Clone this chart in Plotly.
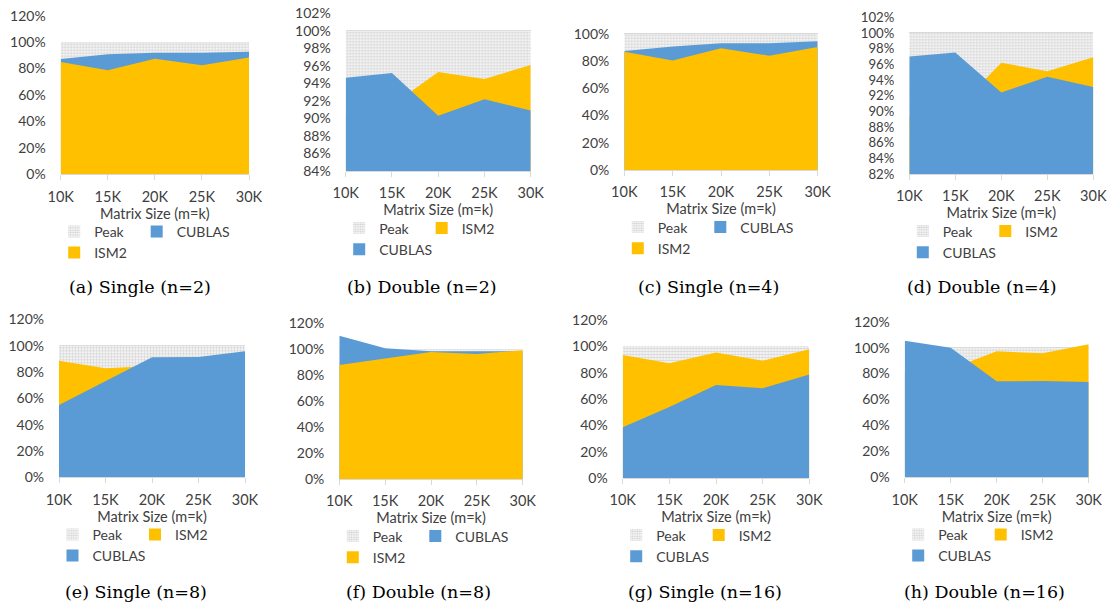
import plotly.graph_objects as go

# ---------------- data ----------------
matrix_sizes = [10, 15, 20, 25, 30]
size_labels = ["10K", "15K", "20K", "25K", "30K"]
peak = [1.0, 1.0, 1.0, 1.0, 1.0]

# (a) Single n=2
cublas_single_2 = [0.873, 0.908, 0.920, 0.920, 0.928]
ism2_single_2 = [0.850, 0.787, 0.875, 0.825, 0.883]
# (b) Double n=2
cublas_double_2 = [0.9465, 0.952, 0.903, 0.922, 0.909]
ism2_double_2 = [0.905, 0.915, 0.953, 0.945, 0.961]
# (c) Single n=4
cublas_single_4 = [0.874, 0.908, 0.932, 0.932, 0.947]
ism2_single_4 = [0.869, 0.805, 0.894, 0.840, 0.903]
# (d) Double n=4
cublas_double_4 = [0.970, 0.975, 0.924, 0.944, 0.931]
ism2_double_4 = [0.895, 0.902, 0.962, 0.951, 0.969]
# (e) Single n=8
cublas_single_8 = [0.549, 0.732, 0.911, 0.914, 0.957]
ism2_single_8 = [0.886, 0.828, 0.846, 0.860, 0.880]
# (f) Double n=8
cublas_double_8 = [1.105, 1.008, 0.985, 0.987, 0.985]
ism2_double_8 = [0.879, 0.931, 0.979, 0.964, 0.992]
# (g) Single n=16
cublas_single_16 = [0.385, 0.539, 0.706, 0.681, 0.787]
ism2_single_16 = [0.934, 0.871, 0.954, 0.891, 0.977]
# (h) Double n=16
cublas_double_16 = [1.054, 1.000, 0.740, 0.743, 0.735]
ism2_double_16 = [0.800, 0.836, 0.972, 0.956, 1.026]

captions = ["(a) Single (n=2)", "(b) Double (n=2)", "(c) Single (n=4)", "(d) Double (n=4)",
            "(e) Single (n=8)", "(f) Double (n=8)", "(g) Single (n=16)", "(h) Double (n=16)"]
x_title = "Matrix Size (m=k)"

# series order per panel (draw + legend order after Peak)
panel_series = [
    [("CUBLAS", cublas_single_2), ("ISM2", ism2_single_2)],
    [("ISM2", ism2_double_2), ("CUBLAS", cublas_double_2)],
    [("CUBLAS", cublas_single_4), ("ISM2", ism2_single_4)],
    [("ISM2", ism2_double_4), ("CUBLAS", cublas_double_4)],
    [("ISM2", ism2_single_8), ("CUBLAS", cublas_single_8)],
    [("CUBLAS", cublas_double_8), ("ISM2", ism2_double_8)],
    [("ISM2", ism2_single_16), ("CUBLAS", cublas_single_16)],
    [("ISM2", ism2_double_16), ("CUBLAS", cublas_double_16)],
]
y_ranges = [(0, 1.2), (0.84, 1.02), (0, 1.2), (0.82, 1.02),
            (0, 1.2), (0, 1.2), (0, 1.2), (0, 1.2)]
y_dticks = [0.2, 0.02, 0.2, 0.02, 0.2, 0.2, 0.2, 0.2]
y_fontsizes = [14, 14, 14, 13.2, 14, 14, 14, 14]

# ---------------- layout geometry (pixels) ----------------
W, H = 1107, 609
# x_left, x_right, y_top, y_bottom of each plot area
geom = [
    (60.7, 249.0, 15.7, 174.3),
    (345.7, 530.7, 13.3, 171.0),
    (624.3, 817.7, 6.7, 170.0),
    (909.3, 1093.3, 17.3, 174.0),
    (59.0, 245.0, 319.3, 477.3),
    (339.3, 522.7, 323.3, 479.0),
    (622.7, 809.3, 320.0, 478.0),
    (904.7, 1088.7, 321.7, 477.3),
]
caption_pos = [(140, 287), (422, 287), (708, 287), (982, 287),
               (136, 592), (418, 592), (705, 592), (984, 592)]

colors = {"CUBLAS": "#5B9BD5", "ISM2": "#FFC000"}
peak_pattern = dict(shape=".", fgcolor="#ADADAD", bgcolor="#FFFFFF", size=3, solidity=0.6)
txt = "#404040"
FONT = "Lato"

fig = go.Figure()
layout = dict(width=W, height=H, margin=dict(l=0, r=0, t=0, b=0, autoexpand=False), autosize=False,
              paper_bgcolor="white", plot_bgcolor="white", showlegend=True,
              font=dict(family=FONT, size=14, color=txt))
annotations = []

for i in range(8):
    n = i + 1
    xs = "" if n == 1 else str(n)
    xref, yref = "x" + xs, "y" + xs
    x0, x1, yt, yb = geom[i]
    leg1 = "legend" if (2 * i + 1) == 1 else f"legend{2 * i + 1}"
    leg2 = f"legend{2 * i + 2}"
    (name2, vals2), (name3, vals3) = panel_series[i]

    # areas (overlapping, drawn in order)
    fig.add_trace(go.Scatter(x=matrix_sizes, y=peak, mode="lines", fill="tozeroy",
                             line=dict(width=0), fillcolor="#FFFFFF", fillpattern=peak_pattern,
                             xaxis=xref, yaxis=yref, showlegend=False, hoverinfo="skip"))
    for nm, vals in [(name2, vals2), (name3, vals3)]:
        fig.add_trace(go.Scatter(x=matrix_sizes, y=vals, mode="lines", fill="tozeroy",
                                 line=dict(width=0), fillcolor=colors[nm],
                                 xaxis=xref, yaxis=yref, showlegend=False, name=nm))

    # legend entries (square swatches)
    fig.add_trace(go.Bar(x=[None], y=[None], name="Peak", legend=leg1, xaxis=xref, yaxis=yref,
                         marker=dict(color="#FFFFFF", pattern=peak_pattern, line=dict(width=0))))
    fig.add_trace(go.Bar(x=[None], y=[None], name=name3, legend=leg1, xaxis=xref, yaxis=yref,
                         marker=dict(color=colors[name3], line=dict(width=0))))
    fig.add_trace(go.Bar(x=[None], y=[None], name=name2, legend=leg2, xaxis=xref, yaxis=yref,
                         marker=dict(color=colors[name2], line=dict(width=0))))

    layout["xaxis" + xs] = dict(
        domain=[x0 / W, x1 / W], anchor=yref, range=[10, 30], automargin=False,
        tickvals=matrix_sizes, ticktext=size_labels, ticks="outside", ticklen=5,
        tickcolor="#D9D9D9", showline=True, linecolor="#D9D9D9", showgrid=False,
        zeroline=False, tickfont=dict(size=14.5, color=txt), fixedrange=True,
        ticklabelstandoff=4,
        title=dict(text=x_title, font=dict(size=14.5, color=txt), standoff=0),
    )
    layout["yaxis" + xs] = dict(
        domain=[1 - yb / H, 1 - yt / H], anchor=xref, range=list(y_ranges[i]), automargin=False,
        dtick=y_dticks[i], tick0=0, tickformat=".0%", showgrid=True, gridcolor="#D9D9D9",
        gridwidth=1, zeroline=False, showline=False, ticks="", ticklabelstandoff=14,
        tickfont=dict(size=y_fontsizes[i], color=txt), fixedrange=True,
    )

    lx_text1 = x0 + 28.5  # text start of first legend column
    lx_text2 = x0 + 111
    ly = yb + 41.5
    legfont = dict(family=FONT, size=14, color=txt)
    layout[leg1] = dict(x=(lx_text1 - 35) / W, y=1 - ly / H, xanchor="left", yanchor="top",
                        orientation="v", font=legfont, bgcolor="rgba(0,0,0,0)", itemclick=False,
                        itemdoubleclick=False, traceorder="normal")
    layout[leg2] = dict(x=(lx_text2 - 35) / W, y=1 - ly / H, xanchor="left", yanchor="top",
                        orientation="v", font=legfont, bgcolor="rgba(0,0,0,0)", itemclick=False,
                        itemdoubleclick=False)

    cx, cy = caption_pos[i]
    annotations.append(dict(text=captions[i], x=cx / W, y=1 - cy / H, xref="paper", yref="paper",
                            xanchor="center", yanchor="middle", showarrow=False,
                            font=dict(family="DejaVu Serif", size=17.5, color="#000000")))

layout["annotations"] = annotations
fig.update_layout(**layout)
fig.write_html("out.html", config={"displayModeBar": False},
               post_script="document.body.style.margin='0px';document.body.style.overflow='hidden';")
